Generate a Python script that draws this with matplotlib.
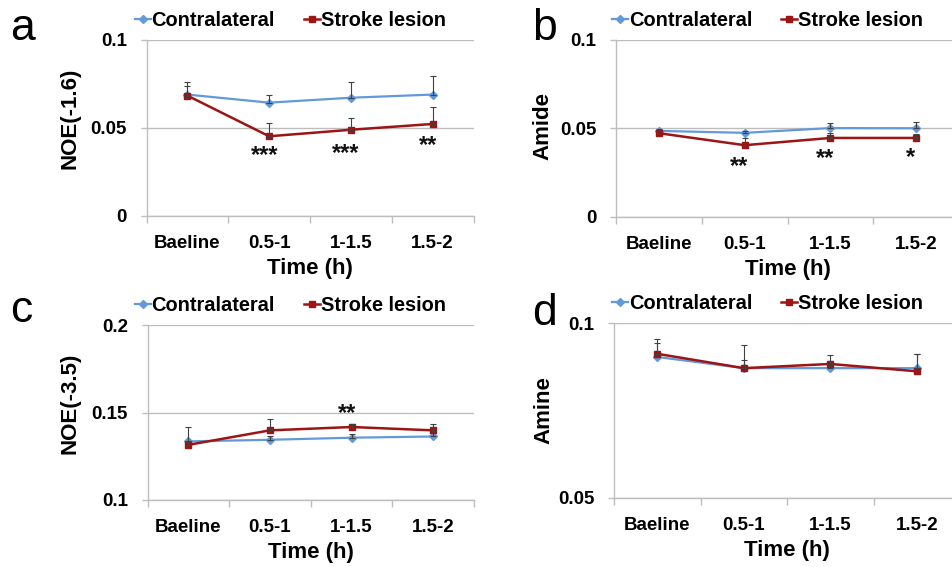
import numpy as np
import matplotlib.pyplot as plt

plt.rcParams['font.family'] = ['Liberation Sans', 'DejaVu Sans']

W, H = 952, 567

times = ['Baeline', '0.5-1', '1-1.5', '1.5-2']

# panel a: NOE(-1.6)
noe16_contra = [0.069, 0.0644, 0.0672, 0.069]
noe16_contra_err = [0.007, 0.0046, 0.009, 0.0104]
noe16_stroke = [0.0684, 0.0453, 0.049, 0.0523]
noe16_stroke_err = [0.0055, 0.0074, 0.0065, 0.0095]
noe16_stars = ['', '***', '***', '**']
noe16_star_y = [0, 0.0345, 0.0355, 0.0402]

# panel b: Amide
amide_contra = [0.0485, 0.0474, 0.0501, 0.0500]
amide_contra_err = [0.001, 0.001, 0.003, 0.0035]
amide_stroke = [0.0472, 0.0404, 0.0445, 0.0445]
amide_stroke_err = [0.001, 0.004, 0.003, 0.002]
amide_stars = ['', '**', '**', '*']
amide_star_y = [0, 0.0282, 0.0329, 0.0335]

# panel c: NOE(-3.5)
noe35_contra = [0.1335, 0.1344, 0.1356, 0.1363]
noe35_contra_err = [0.008, 0.002, 0.002, 0.003]
noe35_stroke = [0.1315, 0.1398, 0.1417, 0.1398]
noe35_stroke_err = [0.002, 0.0065, 0.002, 0.0034]
noe35_stars = ['', '', '**', '']
noe35_star_y = [0, 0, 0.1496, 0]

# panel d: Amine
amine_contra = [0.0903, 0.0871, 0.0871, 0.0871]
amine_contra_err = [0.0039, 0.0023, 0.002, 0.004]
amine_stroke = [0.0912, 0.0871, 0.0883, 0.0862]
amine_stroke_err = [0.0041, 0.0066, 0.0026, 0.0049]
amine_stars = ['', '', '', '']
amine_star_y = [0, 0, 0, 0]

BLUE = '#6399db'
RED = '#9c1414'
GRID = '#bdbdbd'


def px_axes(left, top, right, bottom):
    return [left / W, 1 - bottom / H, (right - left) / W, (bottom - top) / H]


def panel(fig, rect, letter, letter_xy, ylabel, ylab_xy, leg_dx, yticks,
          yticklabels, contra, contra_err, stroke, stroke_err, stars, star_y):
    ax = fig.add_axes(px_axes(*rect))
    w = rect[2] - rect[0]
    h = rect[3] - rect[1]
    x = np.arange(len(times))
    ax.plot(x, contra, color=BLUE, lw=1.6, marker='D', ms=3.8,
            label='Contralateral', zorder=3)
    ax.plot(x, stroke, color=RED, lw=1.8, marker='s', ms=4.8,
            label='Stroke lesion', zorder=4)
    for vals, err in [(contra, contra_err), (stroke, stroke_err)]:
        ax.errorbar(x, vals, yerr=[np.zeros(len(vals)), err], fmt='none',
                    ecolor='#404040', elinewidth=0.8, capsize=2.4,
                    capthick=0.8, zorder=5)
    for xi, s, sy in zip(x, stars, star_y):
        if s:
            ax.text(xi - 0.06, sy, s, ha='center', va='center',
                    fontsize=17, fontweight='bold', color='#111111')

    ax.set_xlim(-0.5, 3.5)
    ax.set_ylim(yticks[0], yticks[-1])
    ax.set_yticks(yticks)
    ax.set_yticklabels(yticklabels)
    ax.set_xticks(x)
    ax.set_xticklabels(times)
    ax.set_xticks(np.arange(-0.5, 4.0, 1.0), minor=True)
    ax.tick_params(axis='x', which='major', length=0, pad=14,
                   labelsize=13.5)
    ax.tick_params(axis='x', which='minor', length=5, color=GRID, width=1,
                   direction='out')
    ax.tick_params(axis='y', length=4, color=GRID, width=1, pad=10,
                   labelsize=13.5)
    for lab in ax.get_xticklabels() + ax.get_yticklabels():
        lab.set_fontweight('bold')
    ax.yaxis.grid(True, color=GRID, lw=1)
    ax.set_axisbelow(True)
    for side in ['top', 'right']:
        ax.spines[side].set_visible(False)
    for side in ['left', 'bottom']:
        ax.spines[side].set_color(GRID)
        ax.spines[side].set_linewidth(1)

    ax.set_ylabel(ylabel, fontsize=16, fontweight='bold')
    ax.yaxis.set_label_coords((ylab_xy[0] - rect[0]) / w,
                              (rect[3] - ylab_xy[1]) / h)
    ax.set_xlabel('Time (h)', fontsize=16, fontweight='bold', labelpad=4)

    ax.legend(loc='lower left', bbox_to_anchor=(leg_dx / w, 1.0 + 2 / h),
              ncol=2, frameon=False,
              prop={'weight': 'bold', 'size': 14.4},
              handlelength=0.8, handletextpad=0.05, columnspacing=1.45,
              borderaxespad=0.3, borderpad=0.1)

    fig.text(letter_xy[0] / W, 1 - letter_xy[1] / H, letter, fontsize=32,
             ha='left', va='baseline')
    return ax


fig = plt.figure(figsize=(W / 100, H / 100), dpi=100)

panel(fig, (146.5, 40, 473.5, 216), 'a', (10, 40), 'NOE(-1.6)', (81, 118),
      -20, [0, 0.05, 0.1], ['0', '0.05', '0.1'],
      noe16_contra, noe16_contra_err, noe16_stroke, noe16_stroke_err,
      noe16_stars, noe16_star_y)
panel(fig, (616, 40, 959, 216.5), 'b', (532, 40), 'Amide', (553, 126),
      -12, [0, 0.05, 0.1], ['0', '0.05', '0.1'],
      amide_contra, amide_contra_err, amide_stroke, amide_stroke_err,
      amide_stars, amide_star_y)
panel(fig, (147.5, 325, 474, 500), 'c', (10, 322), 'NOE(-3.5)', (81, 403),
      -21, [0.1, 0.15, 0.2], ['0.1', '0.15', '0.2'],
      noe35_contra, noe35_contra_err, noe35_stroke, noe35_stroke_err,
      noe35_stars, noe35_star_y)
panel(fig, (614, 323, 960, 498), 'd', (532, 325), 'Amine', (554, 410),
      -10, [0.05, 0.1], ['0.05', '0.1'],
      amine_contra, amine_contra_err, amine_stroke, amine_stroke_err,
      amine_stars, amine_star_y)

fig.savefig('out.png', dpi=100)
